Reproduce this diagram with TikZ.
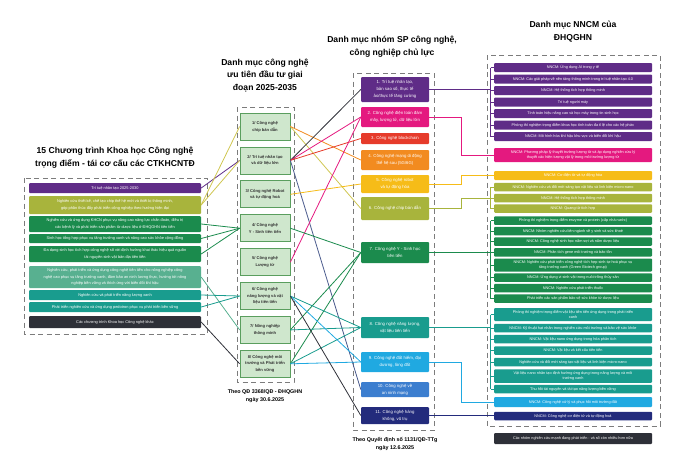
\documentclass[tikz,border=0pt]{standalone}
\usepackage{fontspec}
\setmainfont{Liberation Sans}
\usepackage{xcolor}
\usetikzlibrary{calc}

\definecolor{purp}{HTML}{5F2C87}
\definecolor{mage}{HTML}{E4197F}
\definecolor{redc}{HTML}{E63B2B}
\definecolor{oran}{HTML}{F28B20}
\definecolor{yell}{HTML}{F6BC18}
\definecolor{oliv}{HTML}{A8B43C}
\definecolor{chipline}{HTML}{CFC650}
\definecolor{gree}{HTML}{1B8B4D}
\definecolor{lteal}{HTML}{58B090}
\definecolor{tealc}{HTML}{199C8E}
\definecolor{lblue}{HTML}{20A9E1}
\definecolor{blu}{HTML}{3C7ECF}
\definecolor{slate}{HTML}{4A5A8C}
\definecolor{navyc}{HTML}{232B7C}
\definecolor{dark}{HTML}{2E3038}
\definecolor{boxfill}{HTML}{CFE7CD}
\definecolor{boxline}{HTML}{5A9E5E}
\definecolor{techtxt}{HTML}{333333}
\definecolor{framegray}{HTML}{7C7C7C}

\begin{document}
\begin{tikzpicture}[x=1pt,y=-1pt,
    dashframe/.style={draw=framegray,line width=0.9pt,dash pattern=on 5pt off 3.5pt},
    headtxt/.style={align=center,font=\bfseries\fontsize{8.6}{12.8}\selectfont},
    captxt/.style={align=center,font=\bfseries\fontsize{5.4}{8}\selectfont},
    leftbar/.style={fill=#1,text=white,rounded corners=1pt,minimum width=172pt,inner sep=0pt,align=center,font=\fontsize{3.9}{6.4}\selectfont},
    techbox/.style={fill=boxfill,draw=boxline,line width=0.7pt,minimum width=50pt,minimum height=27pt,inner sep=0pt,align=center,text=techtxt,font=\bfseries\fontsize{4.1}{6.8}\selectfont},
    prodbox/.style={fill=#1,text=white,rounded corners=1pt,minimum width=68pt,inner sep=0pt,align=center,font=\fontsize{4.3}{6.8}\selectfont},
    nnbar/.style={fill=#1,text=white,rounded corners=1pt,minimum width=158pt,inner sep=0pt,align=center,font=\fontsize{3.8}{5.4}\selectfont},
    link/.style={draw=#1,line width=0.8pt}]

  \useasboundingbox (0,0) rectangle (700,474);

  % Left column: programmes
  \node[headtxt] (lhead) at (115,158) {15 Chương trình Khoa học Công nghệ\\trọng điểm - tái cơ cấu các CTKHCNTĐ};
  \draw[dashframe] (24,178) rectangle (207,334);
  \foreach \nb/\yc/\hh/\clr/\txt in {
      1/188/10/purp/{Trí tuệ nhân tạo 2025-2030},
      2/205/18/oliv/{Nghiên cứu thiết kế, chế tạo chip thế hệ mới và thiết bị thông minh,\\góp phần thúc đẩy phát triển công nghiệp theo hướng hiện đại},
      3/224/16/gree/{Nghiên cứu và ứng dụng KHCN phục vụ nâng cao năng lực chẩn đoán, điều trị\\các bệnh lý và phát triển sản phẩm từ dược liệu ở ĐHQGHN tiên tiến},
      4/238.5/9/gree/{Sinh học tổng hợp phục vụ tăng trưởng xanh và nâng cao sức khỏe cộng đồng},
      5/254/16/gree/{Đa dạng sinh học tích hợp công nghệ số với định hướng khai thác hiệu quả nguồn\\tài nguyên sinh vật bản địa tiên tiến},
      6/277/22/lteal/{Nghiên cứu, phát triển và ứng dụng công nghệ tiên tiến cho nông nghiệp công\\nghệ cao phục vụ tăng trưởng xanh, đảm bảo an ninh lương thực, hướng tới nông\\nghiệp bền vững và thích ứng với biến đổi khí hậu},
      7/295/10/tealc/{Nghiên cứu và phát triển năng lượng xanh},
      8/307/10/tealc/{Phát triển nghiên cứu và ứng dụng pedotron phục vụ phát triển bền vững},
      9/322/12/dark/{Các chương trình Khoa học Công nghệ khác}}
    \node[leftbar=\clr,minimum height=\hh] (l\nb) at (115,\yc) {\txt};

  % Second column: priority technologies
  \node[headtxt] (mhead) at (265,75.5) {Danh mục công nghệ\\ưu tiên đầu tư giai\\đoạn 2025-2035};
  \draw[dashframe] (237,107) rectangle (294,382);
  \foreach \nb/\txt in {1/{Công nghệ\\chip bán dẫn}, 2/{Trí tuệ nhân tạo\\và dữ liệu lớn},
      3/{Công nghệ Robot\\và tự động hoá}, 4/{Công nghệ\\Y - Sinh tiên tiến},
      5/{Công nghệ\\Lượng tử}, 6/{Công nghệ\\năng lượng và vật\\liệu tiên tiến},
      7/{Nông nghiệp\\thông minh}, 8/{Công nghệ môi\\trường và Phát triển\\bền vững}}
    \node[techbox] (m\nb) at (265,{126.5+(\nb-1)*33.9}) {\nb/ \txt};
  \node[captxt] (mcap) at (265,396) {Theo QĐ 3368/QĐ - ĐHQGHN\\ngày 30.6.2025};

  % Third column: key products
  \node[headtxt] (phead) at (392,47) {Danh mục nhóm SP công nghệ,\\công nghiệp chủ lực};
  \draw[dashframe] (353,73) rectangle (434,430);
  \node[prodbox=purp,minimum height=25] (p1) at (395,89.5) {1. Trí tuệ nhân tạo,\\bản sao số, thực tế\\ảo/thực tế tăng cường};
  \node[prodbox=mage,minimum height=20] (p2) at (395,117) {2. Công nghệ điện toán đám\\mây, lượng tử, dữ liệu lớn};
  \node[prodbox=redc,minimum height=11] (p3) at (395,138.5) {3. Công nghệ blockchain};
  \node[prodbox=oran,minimum height=20] (p4) at (395,160) {4. Công nghệ mạng di động\\thế hệ sau (5G/6G)};
  \node[prodbox=yell,minimum height=18] (p5) at (395,184) {5. Công nghệ robot\\và tự động hóa};
  \node[prodbox=oliv,minimum height=23] (p6) at (395,208.5) {6. Công nghệ chip bán dẫn};
  \node[prodbox=gree,minimum height=21] (p7) at (395,252.5) {7. Công nghệ Y - Sinh học\\tiên tiến};
  \node[prodbox=tealc,minimum height=21] (p8) at (395,327.5) {8. Công nghệ năng lượng,\\vật liệu tiên tiến};
  \node[prodbox=lblue,minimum height=20] (p9) at (395,362) {9. Công nghệ đất hiếm, đại\\dương, lòng đất};
  \node[prodbox=blu,minimum height=15] (p10) at (395,389.5) {10. Công nghệ về\\an ninh mạng};
  \node[prodbox=navyc,minimum height=17] (p11) at (395,415.5) {11. Công nghệ hàng\\không, vũ trụ};
  \node[captxt] (pcap) at (395,444) {Theo Quyết định số 1131/QĐ-TTg\\ngày 12.6.2025};

  % Right column: research groups
  \node[headtxt] (nhead) at (573,31.5) {Danh mục NNCM của\\ĐHQGHN};
  \draw[dashframe] (487,55) rectangle (660,426);
  \foreach \nb/\yc/\txt in {1/67.5/{NNCM: Ứng dụng AI trong y tế},
      2/79/{NNCM: Các giải pháp về nền tảng thông minh trong trí tuệ nhân tạo 4.0},
      3/90.5/{NNCM: Hệ thống tích hợp thông minh},
      4/102/{Trí tuệ người máy},
      5/113.5/{Tính toán hiệu năng cao và học máy trong tin sinh học},
      6/125/{Phòng thí nghiệm trọng điểm khoa học tính toán đa tỉ lệ cho các hệ phức},
      7/136.5/{NNCM: Mô hình hóa khí hậu khu vực và biến đổi khí hậu}}
    \node[nnbar=purp,minimum height=9] (ai\nb) at (573,\yc) {\txt};
  \node[nnbar=mage,minimum height=14] (qt) at (573,155) {NNCM: Phương pháp lý thuyết trường lượng tử và áp dụng nghiên cứu lý\\thuyết các hiện tượng vật lý trong môi trường lượng tử};
  \node[nnbar=yell,minimum height=9] (rb) at (573,175.5) {NNCM: Cơ điện tử và tự động hóa};
  \foreach \nb/\yc/\txt in {1/187/{NNCM: Nghiên cứu và đổi mới sáng tạo vật liệu và linh kiện micro-nano},
      2/198/{NNCM: Hệ thống tích hợp thông minh},
      3/208.5/{NNCM: Quang tử tích hợp}}
    \node[nnbar=oliv,minimum height=8.5] (ch\nb) at (573,\yc) {\txt};
  \foreach \nb/\yc/\hh/\txt in {1/220.7/8.5/{Phòng thí nghiệm trọng điểm enzyme và protein (cấp nhà nước)},
      2/231.2/8.5/{NNCM: Nhóm nghiên cứu liên ngành về y sinh và sức khoẻ},
      3/241.7/8.5/{NNCM: Công nghệ sinh học nấm sợi và nấm dược liệu},
      4/252.3/8.5/{NNCM: Phân tích gene môi trường và bảo tồn},
      5/265/13/{NNCM: Nghiên cứu phát triển công nghệ tích hợp sinh-tự-hoá phục vụ\\tăng trưởng xanh (Green Biotech group)},
      6/277.5/8.5/{NNCM: Ứng dụng vi sinh vật trong nuôi trồng thủy sản},
      7/288/8.5/{NNCM: Nghiên cứu phát triển thuốc},
      8/298.5/8.5/{Phát triển các sản phẩm bảo vệ sức khỏe từ dược liệu}}
    \node[nnbar=gree,minimum height=\hh] (ys\nb) at (573,\yc) {\txt};
  \foreach \nb/\yc/\hh/\txt in {1/314.5/13/{Phòng thí nghiệm trọng điểm vật liệu tiên tiến ứng dụng trong phát triển\\xanh},
      2/328/8.5/{NNCM: Kỹ thuật hạt nhân trong nghiên cứu môi trường và bảo vệ sức khỏe},
      3/339/8.5/{NNCM: Vật liệu nano ứng dụng trong hóa phân tích},
      4/350.5/8.5/{NNCM: Vật liệu và kết cấu tiên tiến},
      5/362/8.5/{Nghiên cứu và đổi mới sáng tạo vật liệu và linh kiện micro-nano},
      6/376/13.5/{Vật liệu nano nhân tạo định hướng ứng dụng trong năng lượng và môi\\trường xanh},
      7/389/8.5/{Thu hồi tài nguyên và tái tạo năng lượng bền vững}}
    \node[nnbar=tealc,minimum height=\hh] (vl\nb) at (573,\yc) {\txt};
  \node[nnbar=lblue,minimum height=10] (dat) at (573,402) {NNCM: Công nghệ xử lý và phục hồi môi trường đất};
  \node[nnbar=navyc,minimum height=8.5] (hk) at (573,416) {NNCM: Công nghệ cơ điện tử và tự động hoá};
  \node[nnbar=dark,minimum height=11] (khac) at (573,438.5) {Các nhóm nghiên cứu mạnh đang phát triển - và số còn nhiều hơn nữa};

  % Brackets on the groups
  \foreach \g/\last/\clr in {ai/7/purp, ch/3/oliv, ys/8/gree, vl/7/tealc}{
    \coordinate (\g-spine) at ([xshift=-3pt]\g1.west);
    \draw[link=\clr] (\g-spine) -- ([xshift=-3pt]\g\last.west);
    \foreach \j in {1,...,\last}
      \draw[link=\clr] ([xshift=-3pt]\g\j.west) -- (\g\j.west);
  }

  % Programmes -> priority technologies
  \draw[link=purp] (l1.east) -- (m2.west);
  \draw[link=chipline] (l2.east) -- (m1.west);
  \draw[link=chipline] (l2.east) -- (m2.west);
  \foreach \j in {3,4,5}
    \draw[link=gree] (l\j.east) -- (m4.west);
  \draw[link=lteal] (l6.east) -- (m7.west);
  \foreach \j in {7,8}
    \draw[link=tealc] (l\j.east) -- (m6.west);
  \draw[link=dark] (l9.east) -- (m8.west);

  % Priority technologies -> key products
  \draw[link=chipline] (m1.east) -- (p6.west);
  \draw[link=oran] (m1.east) -- (p4.west);
  \draw[link=dark] (m2.east) -- (p1.west);
  \draw[link=mage] (m2.east) -- (p2.west);
  \draw[link=redc] (m2.east) -- (p3.west);
  \draw[link=slate] (m2.east) -- (p10.west);
  \draw[link=yell] (m3.east) -- (p5.west);
  \draw[link=mage] (m5.east) -- (p2.west);
  \foreach \j in {4,7,8}
    \draw[link=gree] (m\j.east) -- (p7.west);
  \foreach \j in {6,7,8}
    \draw[link=tealc] (m\j.east) -- (p8.west);
  \foreach \j in {6,8}
    \draw[link=lblue] (m\j.east) -- (p9.west);
  \draw[link=dark] (m6.east) -- (p11.west);

  % Key products -> research groups
  \coordinate (bend) at (461,0);
  \draw[link=purp] (p1.east) -- (p1.east -| ai-spine);
  \draw[link=mage] (p2.east) -- (p2.east -| bend) |- (qt.west);
  \draw[link=yell] (p5.east) -- (p5.east -| bend) |- (rb.west);
  \draw[link=oliv] (p6.east) -- (p6.east -| bend) |- (ch2.west -| ch-spine);
  \draw[link=gree] (p7.east) -- (p7.east -| ys-spine);
  \draw[link=tealc] (p8.east) -- (p8.east -| vl-spine);
  \draw[link=lblue] (p9.east) -- (p9.east -| bend) |- (dat.west);
  \draw[link=navyc] (p11.east) -- (p11.east -| hk.west);
\end{tikzpicture}
\end{document}
